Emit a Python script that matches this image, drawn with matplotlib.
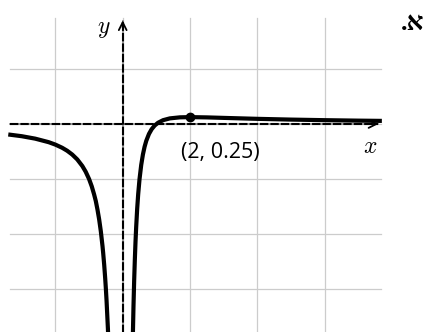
import matplotlib.pyplot as plt

# points (left branch / right branch of the curve)
left_x = [-3.40, -3.0, -2.6, -2.2, -2.0, -1.8, -1.65, -1.5, -1.35, -1.2, -1.1, -1.0,
          -0.92, -0.85, -0.80, -0.75, -0.70, -0.65, -0.60, -0.58, -0.55, -0.52, -0.50,
          -0.48, -0.44, -0.42]
left_y = [-0.381, -0.444, -0.533, -0.661, -0.75, -0.864, -0.973, -1.111, -1.289, -1.528,
          -1.736, -2.0, -2.268, -2.561, -2.8, -3.111, -3.469, -3.905, -4.444, -4.697,
          -5.124, -5.621, -6.0, -6.424, -7.438, -8.05]

right_x = [0.30, 0.32, 0.34, 0.36, 0.38, 0.40, 0.43, 0.46, 0.50, 0.55, 0.60, 0.65, 0.70,
           0.78, 0.86, 0.95, 1.05, 1.2, 1.4, 1.7, 2.0, 2.5, 3.0, 4.0, 5.0, 6.0, 7.0, 7.7]
right_y = [-7.78, -6.64, -5.71, -4.94, -4.29, -3.75, -3.08, -2.55, -2.0, -1.488, -1.111,
           -0.828, -0.612, -0.362, -0.189, -0.055, 0.045, 0.139, 0.204, 0.242, 0.25, 0.24,
           0.222, 0.1875, 0.16, 0.139, 0.122, 0.113]

max_pt = (2, 0.25)
max_label = "(2, 0.25)"

grid_x = [-2, 0, 2, 4, 6]
grid_y = [2, 0, -2, -4, -6]

plt.rcParams['mathtext.fontset'] = 'cm'

fig = plt.figure(figsize=(4.31, 3.32), dpi=100)
ax = fig.add_axes([0, 0, 1, 1])
ax.set_xlim(-3.646, 9.16)
ax.set_ylim(-7.564, 4.509)
ax.axis('off')

x0, x1 = -3.35, 7.68
y0, y1 = -7.6, 3.85

# grid
for gx in grid_x:
    ax.plot([gx, gx], [y0, y1], color='#cccccc', lw=0.9, zorder=1)
for gy in grid_y:
    ax.plot([x0, x1], [gy, gy], color='#cccccc', lw=0.9, zorder=1)

# dashed axes (gray underneath) with arrow heads
ax.plot([x0, 7.6], [0, 0], color='#999999', lw=1.4, zorder=2)
ax.plot([0, 0], [y0, 3.75], color='#999999', lw=1.4, zorder=2)
ax.plot([x0, 7.6], [0, 0], color='black', lw=1.5, linestyle=(0, (4, 1.0)), zorder=2)
ax.plot([0, 0], [y0, 3.75], color='black', lw=1.5, linestyle=(0, (4, 1.0)), zorder=2)
ax.annotate('', xy=(7.68, 0), xytext=(7.3, 0),
            arrowprops=dict(arrowstyle='->', color='black', lw=1.3, mutation_scale=14))
ax.annotate('', xy=(0, 3.87), xytext=(0, 3.4),
            arrowprops=dict(arrowstyle='->', color='black', lw=1.3, mutation_scale=14))

# curve
ax.plot(left_x, left_y, color='black', lw=3, solid_capstyle='butt', zorder=3)
ax.plot(right_x, right_y, color='black', lw=3, solid_capstyle='butt', zorder=3)
ax.plot(*max_pt, 'o', color='black', markersize=6, zorder=4)

ax.text(2.9, -1.04, max_label, fontsize=15.5, family='Open Sans', fontweight='medium',
        ha='center', va='center')
ax.text(-0.55, 3.5, '$y$', fontsize=17, ha='center', va='center')
ax.text(7.35, -0.8, '$x$', fontsize=17, ha='center', va='center')
ax.text(8.62, 3.66, '.א', fontsize=19, family='Liberation Serif', fontweight='bold',
        ha='center', va='center')

fig.savefig('out.png', dpi=100)
